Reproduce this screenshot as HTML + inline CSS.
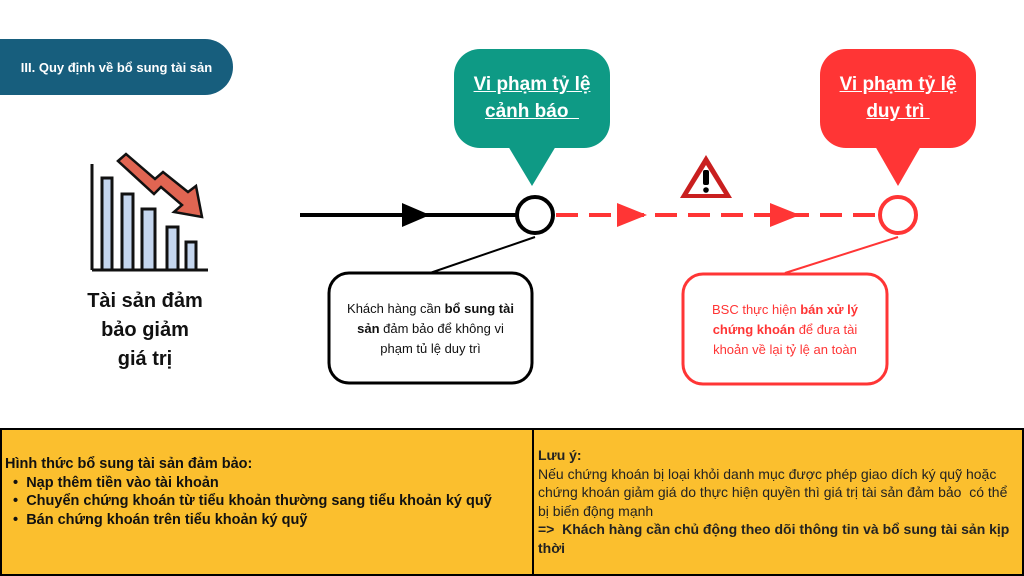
<!DOCTYPE html>
<html><head><meta charset="utf-8"><style>
body{margin:0;width:1024px;height:576px;overflow:hidden;background:#fff;position:relative;font-family:"Liberation Sans","Noto Sans CJK SC",sans-serif}
.a{position:absolute}
.t{position:absolute;text-align:center;white-space:nowrap}
</style></head><body>
<div class="a" style="left:-30px;top:39px;width:263px;height:56px;background:#175E7D;border-radius:28px"></div>
<div class="t" style="left:0;width:233px;top:60px;color:#fff;font-weight:bold;font-size:13px">III. Quy định về bổ sung tài sản</div>

<svg class="a" style="left:0;top:0" width="1024" height="430">
<g stroke="#111" stroke-width="3" fill="#C5D6EE">
<line x1="92" y1="164" x2="92" y2="270"/>
<rect x="102" y="178" width="10" height="92"/>
<rect x="122" y="194" width="11" height="76"/>
<rect x="142" y="209" width="13" height="61"/>
<rect x="167" y="227" width="11" height="43"/>
<rect x="186" y="242" width="10" height="28"/>
<line x1="92" y1="270" x2="208" y2="270"/>
<polygon fill="#E06552" stroke-width="2.5" points="118,161 126,154 155,179 163,172 188,192 196,186 202,217 174,212 182,205 161,187 154,194"/>
</g>
<line x1="300" y1="215" x2="517" y2="215" stroke="#000" stroke-width="4"/>
<polygon points="402,203 402,227 430,215" fill="#000"/>
<line x1="556" y1="215" x2="880" y2="215" stroke="#FF3535" stroke-width="4" stroke-dasharray="22,11"/>
<polygon points="617,203 617,227 647,215" fill="#FF3535"/>
<polygon points="770,203 770,227 800,215" fill="#FF3535"/>
<circle cx="535" cy="215" r="18" fill="#fff" stroke="#000" stroke-width="4"/>
<circle cx="898" cy="215" r="18" fill="#fff" stroke="#FF3535" stroke-width="4"/>
<rect x="454" y="49" width="156" height="99" rx="26" fill="#0E9A85"/>
<polygon points="508,146 556,146 532,186" fill="#0E9A85"/>
<rect x="820" y="49" width="156" height="99" rx="26" fill="#FF3535"/>
<polygon points="875,146 921,146 898,186" fill="#FF3535"/>
<line x1="535" y1="237" x2="430" y2="273" stroke="#000" stroke-width="2"/>
<line x1="898" y1="237" x2="785" y2="273" stroke="#FF3535" stroke-width="2"/>
<rect x="329" y="273" width="203" height="110" rx="20" fill="#fff" stroke="#000" stroke-width="3"/>
<rect x="683" y="274" width="204" height="110" rx="20" fill="#fff" stroke="#FF3535" stroke-width="3"/>
<polygon points="706,155 732,198 680,198" fill="#C91F1F"/>
<polygon points="706,165 724,194 688,194" fill="#fff"/>
<rect x="703" y="170" width="6" height="15" rx="2" fill="#000"/>
<circle cx="706" cy="190" r="2.8" fill="#000"/>
</svg>

<div class="t" style="left:60px;width:170px;top:287px;font-weight:bold;font-size:20px;line-height:29px;color:#111">Tài sản đảm<br>bảo giảm<br>giá trị</div>
<div class="t" style="left:454px;width:156px;top:71px;color:#fff;font-weight:bold;font-size:19px;line-height:27px;text-decoration:underline">Vi phạm tỷ lệ<br>cảnh báo&nbsp;&nbsp;</div>
<div class="t" style="left:820px;width:156px;top:71px;color:#fff;font-weight:bold;font-size:19px;line-height:27px;text-decoration:underline">Vi phạm tỷ lệ<br>duy trì&nbsp;</div>
<div class="t" style="left:329px;width:203px;top:299px;font-size:13px;line-height:20px;color:#111">Khách hàng cần <b>bổ sung tài</b><br><b>sản</b> đảm bảo để không vi<br>phạm tủ lệ duy trì</div>
<div class="t" style="left:683px;width:204px;top:300px;font-size:13px;line-height:20px;color:#FF3535">BSC thực hiện <b>bán xử lý</b><br><b>chứng khoán</b> để đưa tài<br>khoản về lại tỷ lệ an toàn</div>

<div class="a" style="left:0;top:428px;width:1020px;height:144px;background:#FBBF2E;border:2px solid #000"></div>
<div class="a" style="left:532px;top:428px;width:2px;height:148px;background:#000"></div>
<div class="a" style="left:5px;top:455px;font-size:14.5px;line-height:18.7px;font-weight:bold;color:#111;white-space:nowrap">Hình thức bổ sung tài sản đảm bảo:<br>&nbsp;&nbsp;•&nbsp; Nạp thêm tiền vào tài khoản<br>&nbsp;&nbsp;•&nbsp; Chuyển chứng khoán từ tiểu khoản thường sang tiểu khoản ký quỹ<br>&nbsp;&nbsp;•&nbsp; Bán chứng khoán trên tiểu khoản ký quỹ</div>
<div class="a" style="left:538px;top:446px;font-size:14px;line-height:18.5px;color:#222;white-space:nowrap"><b>Lưu ý:</b><br>Nếu chứng khoán bị loại khỏi danh mục được phép giao dích ký quỹ hoặc<br>chứng khoán giảm giá do thực hiện quyền thì giá trị tài sản đảm bảo&nbsp; có thể<br>bị biến động mạnh<br><b>=&gt;&nbsp; Khách hàng cần chủ động theo dõi thông tin và bổ sung tài sản kịp<br>thời</b></div>
</body></html>
